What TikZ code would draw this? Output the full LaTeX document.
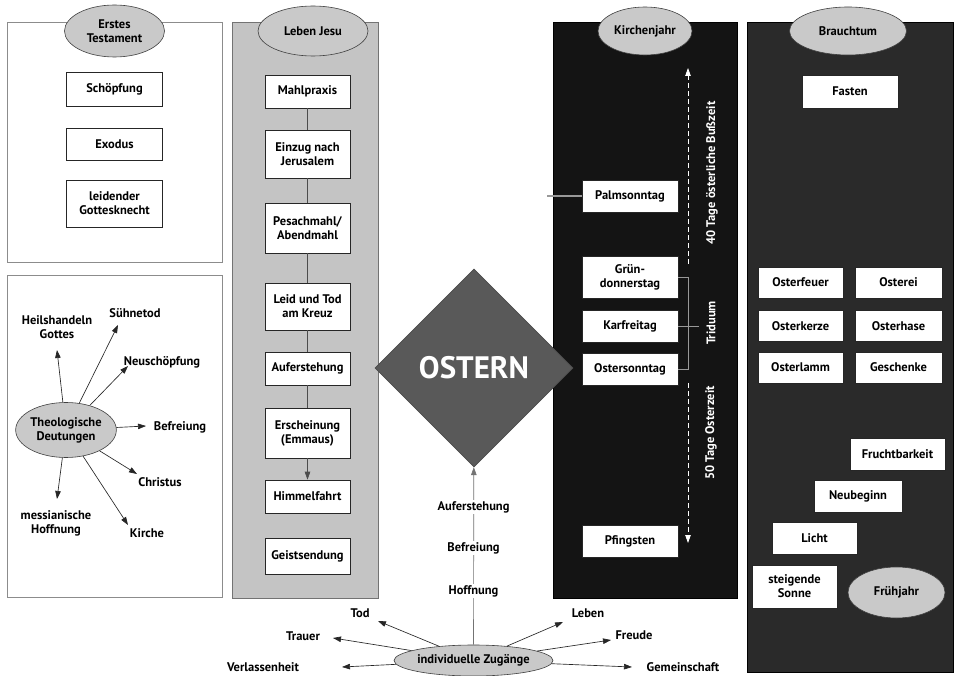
\documentclass[tikz,border=0pt]{standalone}
\usepackage{fontspec}
\setmainfont{PT Sans}
\usetikzlibrary{shapes.geometric,arrows.meta}
\definecolor{ljgray}{HTML}{C4C4C4}
\definecolor{ellgray}{HTML}{C9C9C9}
\definecolor{kjblack}{HTML}{141414}
\definecolor{brdark}{HTML}{2A2A2A}
\definecolor{diagray}{HTML}{595959}
\tikzset{
  lightpanel/.style={draw=black!45, fill=white, line width=0.7pt},
  ljpanel/.style={draw=black!55, fill=ljgray, line width=0.7pt},
  kjpanel/.style={draw=black, fill=kjblack, line width=0.7pt},
  brpanel/.style={draw=black, fill=brdark, line width=0.7pt},
  box/.style={draw=black!85, fill=white, line width=0.6pt, align=center, inner sep=2pt, minimum width=85, minimum height=33},
  head/.style={ellipse, draw=black!75, fill=ellgray, line width=0.6pt, align=center, inner sep=0pt},
  lbl/.style={align=center, inner sep=1pt},
  arr/.style={-{Triangle[length=8pt,width=5.5pt]}, line width=0.65pt, draw=black!85},
  conn/.style={line width=0.8pt, draw=black!70},
  darr/.style={-{Triangle[length=8pt,width=5.5pt]}, line width=0.8pt, draw=white, dash pattern=on 5pt off 3pt},
  bracket/.style={line width=0.8pt, draw=black!40},
  vtext/.style={rotate=90, text=white, inner sep=1pt},
}
\begin{document}
\begin{tikzpicture}[x=1pt,y=-1pt, font=\bfseries\fontsize{12.5}{14}\selectfont]
\useasboundingbox[fill=white] (0,0) rectangle (959,676);

% panels
\node[lightpanel, minimum width=215, minimum height=240] (etp) at (114.5,142) {};
\node[lightpanel, minimum width=215, minimum height=322] (tdp) at (114.5,436) {};
\node[ljpanel, minimum width=146, minimum height=576] (ljp) at (305,310) {};
\node[kjpanel, minimum width=184, minimum height=576] (kjp) at (645,310) {};
\node[brpanel, minimum width=206, minimum height=650] (brp) at (850,347) {};

% headers
\node[head, minimum width=100, minimum height=52] (eth) at (114.5,31) {Erstes\\Testament};
\node[head, minimum width=110, minimum height=50] (ljh) at (313,31) {Leben Jesu};
\node[head, minimum width=94, minimum height=48] (kjh) at (645,31) {Kirchenjahr};
\node[head, minimum width=117, minimum height=48] (brh) at (848,31) {Brauchtum};

% Erstes Testament
\node[box, minimum width=96, minimum height=34] (schoepf) at (114.5,89) {Schöpfung};
\node[box, minimum width=96, minimum height=32] (exodus) at (114.5,144) {Exodus};
\node[box, minimum width=96, minimum height=47] (knecht) at (114.5,203.5) {leidender\\Gottesknecht};

% Theologische Deutungen
\node[head, minimum width=94, minimum height=55] (td) at (66,430) {Theologische\\Deutungen};
\node[lbl] (heil) at (57,327) {Heilshandeln\\Gottes};
\node[lbl] (suehne) at (135,313) {Sühnetod};
\node[lbl] (neu) at (162,362) {Neuschöpfung};
\node[lbl] (befr) at (180,427) {Befreiung};
\node[lbl] (christ) at (160,482) {Christus};
\node[lbl] (kirche) at (147,533) {Kirche};
\node[lbl] (mess) at (56,523) {messianische\\Hoffnung};
\coordinate (eHeil) at (57,350);
\coordinate (eSuehne) at (118,325);
\coordinate (eNeu) at (128,366);
\coordinate (eBefr) at (146,426);
\coordinate (eChrist) at (137,474);
\coordinate (eKirche) at (128,525);
\coordinate (eMess) at (57,499);
\draw[arr] (td) -- (eHeil);
\draw[arr] (td) -- (eSuehne);
\draw[arr] (td) -- (eNeu);
\draw[arr] (td) -- (eBefr);
\draw[arr] (td) -- (eChrist);
\draw[arr] (td) -- (eKirche);
\draw[arr] (td) -- (eMess);

% Leben Jesu
\node[box] (mahl) at (307.5,91.5) {Mahlpraxis};
\node[box, minimum height=48] (einzug) at (307.5,154) {Einzug nach\\Jerusalem};
\node[box, minimum height=50] (pesach) at (307.5,228) {Pesachmahl/\\Abendmahl};
\node[box, minimum height=47] (leid) at (307.5,306.5) {Leid und Tod\\am Kreuz};
\node[box] (aufer) at (307.5,368.5) {Auferstehung};
\node[box, minimum height=50] (ersch) at (307.5,433) {Erscheinung\\(Emmaus)};
\node[box] (himmel) at (307.5,496.5) {Himmelfahrt};
\node[box, minimum height=36] (geist) at (307.5,556.5) {Geistsendung};
\draw[conn] (mahl) -- (einzug);
\draw[conn] (einzug) -- (pesach);
\draw[conn] (pesach) -- (leid);
\draw[conn] (leid) -- (aufer);
\draw[conn] (aufer) -- (ersch);
\draw[arr, draw=black!70] (ersch) -- (himmel);

% Kirchenjahr
\coordinate (palmin) at (547,196);
\node[box, minimum width=96, minimum height=32] (palm) at (630,196) {Palmsonntag};
\draw[line width=1.6pt, draw=black!40] (palmin) -- (palm.west);
\node[box, minimum width=96, minimum height=42] (gruen) at (630,277.5) {Grün-\\donnerstag};
\node[box, minimum width=96, minimum height=32] (karf) at (630,326) {Karfreitag};
\node[box, minimum width=96, minimum height=32] (oster) at (630,369) {Ostersonntag};
\node[box, minimum width=96, minimum height=32] (pfing) at (630,541) {Pfingsten};
\coordinate (d1bot) at (688,264);
\coordinate (d1top) at (688,68);
\coordinate (d2top) at (688,383);
\coordinate (d2bot) at (688,543);
\draw[darr] (d1bot) -- (d1top);
\draw[darr] (d2top) -- (d2bot);
\draw[bracket] (gruen.east) -- ++(10,0) |- (oster.east);
\coordinate (karfout) at (699,326);
\draw[bracket] (karf.east) -- (karfout);
\node[vtext] (bussz) at (712,173) {40 Tage österliche Bußzeit};
\node[vtext] (trid) at (711,323) {Triduum};
\node[vtext] (osterz) at (711,433) {50 Tage Osterzeit};

% Brauchtum
\node[box, minimum width=96] (fasten) at (850,91.5) {Fasten};
\node[box, minimum height=31] (ofeuer) at (800.5,282.5) {Osterfeuer};
\node[box, minimum width=87, minimum height=31] (oei) at (898.5,282.5) {Osterei};
\node[box, minimum height=31] (okerze) at (800.5,326) {Osterkerze};
\node[box, minimum width=87, minimum height=31] (ohase) at (898.5,326) {Osterhase};
\node[box, minimum height=31] (olamm) at (800.5,367.5) {Osterlamm};
\node[box, minimum width=87, minimum height=31] (gesch) at (898.5,367.5) {Geschenke};
\node[box, minimum width=95, minimum height=32] (frucht) at (897.5,454) {Fruchtbarkeit};
\node[box, minimum width=88, minimum height=32] (neube) at (858,496) {Neubeginn};
\node[box, minimum height=32] (licht) at (814.5,538) {Licht};
\node[box, minimum height=43] (sonne) at (794.5,586.5) {steigende\\Sonne};
\node[head, minimum width=97, minimum height=51] (fruehj) at (896.5,592.5) {Frühjahr};

% OSTERN
\node[diamond, fill=diagray, draw=black!70, line width=0.6pt, minimum width=198, minimum height=198, inner sep=0pt, text=white, font=\bfseries\fontsize{31}{32}\selectfont] (ost) at (474,368) {OSTERN};

% individuelle Zugaenge
\node[head, minimum width=150, minimum height=31] (zug) at (473.5,660.5) {individuelle Zugänge};
\draw[arr, draw=black!55] (zug) -- (ost);
\node[lbl, fill=white] (auferL) at (473.5,507) {Auferstehung};
\node[lbl, fill=white] (befrL) at (473.5,548) {Befreiung};
\node[lbl, fill=white] (hoffL) at (473.5,591) {Hoffnung};

\node[lbl] (tod) at (360,613) {Tod};
\node[lbl] (trauer) at (303,636) {Trauer};
\node[lbl] (verl) at (263,667) {Verlassenheit};
\node[lbl] (leben) at (588,613) {Leben};
\node[lbl] (freude) at (634,635) {Freude};
\node[lbl] (gem) at (683,667) {Gemeinschaft};
\coordinate (eTod) at (378,621);
\coordinate (eTrauer) at (333,638);
\coordinate (eVerl) at (342,667);
\coordinate (eLeben) at (563,622);
\coordinate (eFreude) at (611,640);
\coordinate (eGem) at (632,667);
\draw[arr] (zug) -- (eTod);
\draw[arr] (zug) -- (eTrauer);
\draw[arr] (zug) -- (eVerl);
\draw[arr] (zug) -- (eLeben);
\draw[arr] (zug) -- (eFreude);
\draw[arr] (zug) -- (eGem);
\end{tikzpicture}
\end{document}
